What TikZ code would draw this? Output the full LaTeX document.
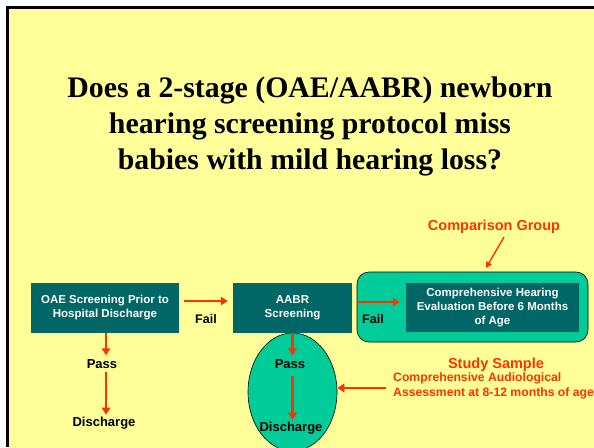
\documentclass[tikz,border=0pt]{standalone}
\usepackage{fontspec}
\setmainfont{Liberation Serif}
\setsansfont{Liberation Sans}
\usetikzlibrary{arrows.meta,shapes.geometric,calc}
\definecolor{bgyellow}{HTML}{FFFF99}
\definecolor{darkteal}{HTML}{006666}
\definecolor{lightteal}{HTML}{00CC99}
\definecolor{redor}{HTML}{FF3300}
\begin{document}
\begin{tikzpicture}[x=1pt,y=-1pt,
  tealbox/.style={fill=darkteal,text=white,font=\sffamily\bfseries\fontsize{11.5}{14}\selectfont,align=center,inner sep=0pt},
  lbl/.style={font=\sffamily\bfseries\fontsize{13}{15}\selectfont,text=black,inner sep=0pt},
  faillbl/.style={font=\sffamily\bfseries\fontsize{12.5}{15}\selectfont,text=black,inner sep=0pt},
  redlbl/.style={font=\sffamily\bfseries\fontsize{14.5}{16}\selectfont,text=redor,inner sep=0pt},
  arr/.style={draw=redor,line width=2.2pt,-{Triangle[length=7pt,width=8.5pt]}},
  thinarr/.style={draw=redor,line width=1.4pt,-{Triangle[length=6pt,width=6.5pt]}}]
\useasboundingbox (0,0) rectangle (594,447);
\fill[white] (0,0) rectangle (594,447);
\fill[bgyellow] (8,9) rectangle (594,447);
\draw[black,line width=3pt] (7,447) -- (7,7.5) -- (594,7.5);
% title
\node[font=\bfseries\fontsize{29.8}{36}\selectfont,align=center,inner sep=0pt] (title) at (310,126)
  {Does a 2-stage (OAE/AABR) newborn\\hearing screening protocol miss\\babies with mild hearing loss?};
% boxes
\node[tealbox,minimum width=148pt,minimum height=50pt] (oae) at (105,308) {OAE Screening Prior to\\Hospital Discharge};
\node[draw=black,fill=lightteal,rounded corners=12pt,minimum width=231pt,minimum height=70pt,inner sep=0pt,line width=0.6pt] (group) at (472.5,307) {};
\node[tealbox,minimum width=173pt,minimum height=49pt] (che) at (492.5,307.5) {Comprehensive Hearing\\Evaluation Before 6 Months\\of Age};
\node[draw=black,fill=lightteal,ellipse,minimum width=89pt,minimum height=118pt,inner sep=0pt,line width=0.6pt] (ell) at (292.5,392) {};
\node[tealbox,minimum width=119pt,minimum height=50pt,font=\sffamily\bfseries\fontsize{11.5}{13.5}\selectfont] (aabr) at (292.5,308) {AABR\\Screening};
% labels
\node[lbl] (pass1) at (102,364) {Pass};
\node[lbl] (dis1) at (104,423) {Discharge};
\node[lbl] (pass2) at (290,364) {Pass};
\node[lbl] (dis2) at (291,428) {Discharge};
\node[faillbl] (fail1) at (206,319) {Fail};
\node[faillbl] (fail2) at (373,319) {Fail};
\node[redlbl] (comp) at (494,227) {Comparison Group};
\coordinate (compend) at (486,268);
\node[redlbl] (study) at (496,365) {Study Sample};
\node[redlbl,font=\sffamily\bfseries\fontsize{12.2}{14.3}\selectfont,align=left,anchor=west] (assess) at (393,386) {Comprehensive Audiological\\Assessment at 8-12 months of age};
% arrows
\draw[arr] ($(oae.east)+(5,-7)$) -- ($(aabr.west)+(-5,-7)$);
\draw[arr] ($(aabr.east)+(5,-6)$) -- ($(che.west)+(-6,-5.5)$);
\draw[arr] ($(oae.south)+(1,0)$) -- ($(pass1.north)+(4,-4)$);
\draw[arr] ($(pass1.south)+(4,3)$) -- ($(dis1.north)+(2,-2)$);
\draw[arr] ($(aabr.south)+(0,0)$) -- ($(pass2.north)+(2.5,-4)$);
\draw[arr] ($(pass2.south)+(2.5,7)$) -- ($(dis2.north)+(1.5,-2)$);
\draw[thinarr] ($(comp.south)+(10,3)$) -- (compend);
\draw[arr] ($(assess.west)+(-7,2)$) -- (ell.east |- {$(assess.west)+(0,2)$});
\end{tikzpicture}
\end{document}
